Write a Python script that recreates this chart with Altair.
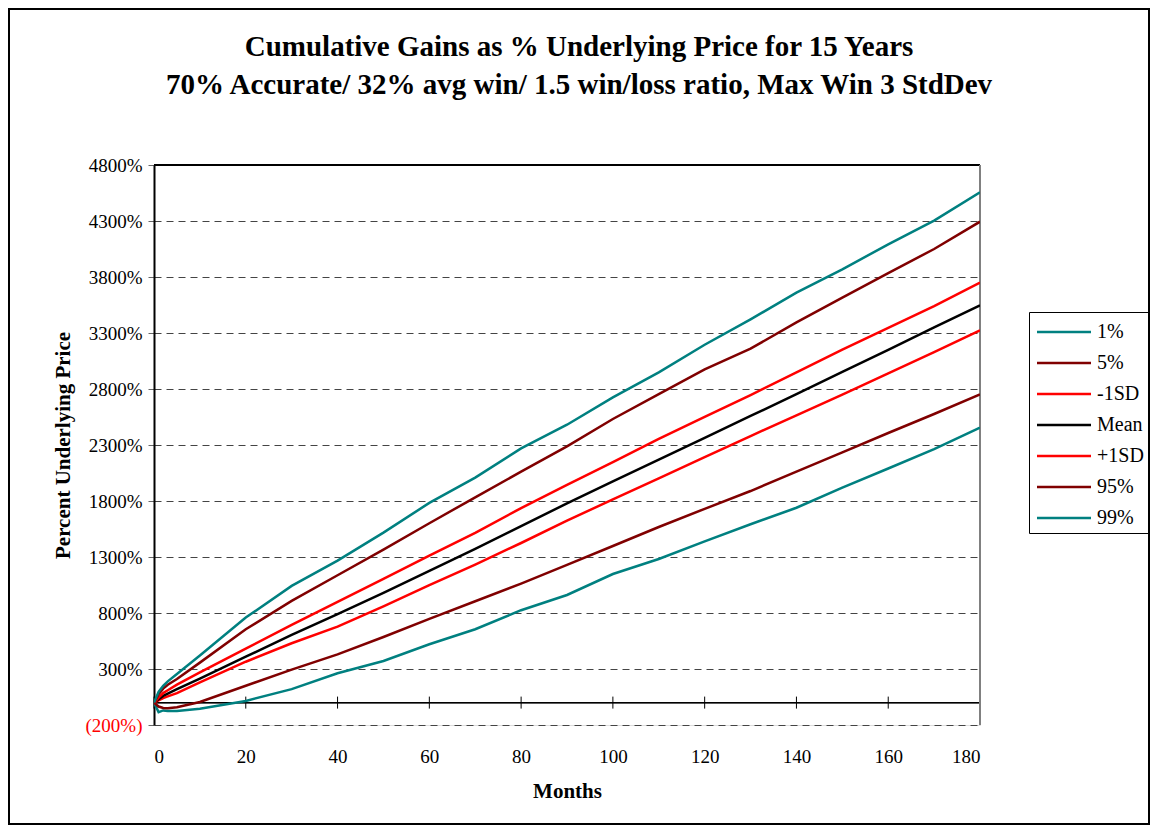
import altair as alt
import pandas as pd

# ---- data ----
months = [0, 1, 2, 3, 5, 10, 20, 30, 40, 50, 60, 70, 80, 90, 100, 110, 120, 130, 140, 150, 160, 170, 180]
p1 = [0, -85, -70, -75, -75, -55, 15, 120, 262, 372, 521, 655, 825, 961, 1148, 1282, 1440, 1592, 1740, 1919, 2090, 2264, 2455]
p5 = [0, -35, -48, -50, -42, 5, 150, 295, 430, 586, 747, 905, 1062, 1229, 1398, 1568, 1730, 1889, 2062, 2234, 2407, 2577, 2752]
sd_minus = [0, 20, 40, 55, 85, 180, 365, 530, 678, 860, 1048, 1232, 1425, 1624, 1815, 2003, 2192, 2380, 2565, 2749, 2940, 3130, 3324]
mean = [0, 30, 60, 80, 120, 215, 410, 605, 790, 979, 1176, 1372, 1575, 1779, 1975, 2169, 2364, 2559, 2755, 2952, 3150, 3350, 3547]
sd_plus = [0, 45, 85, 110, 160, 270, 482, 694, 900, 1104, 1312, 1515, 1737, 1943, 2148, 2354, 2552, 2746, 2949, 3151, 3345, 3541, 3750]
p95 = [0, 74, 125, 160, 210, 357, 655, 908, 1137, 1366, 1601, 1833, 2062, 2288, 2532, 2755, 2975, 3160, 3395, 3615, 3835, 4050, 4294]
p99 = [0, 95, 150, 190, 255, 420, 759, 1042, 1268, 1518, 1783, 2009, 2270, 2481, 2725, 2949, 3195, 3422, 3660, 3868, 4092, 4303, 4556]

series_names = ["1%", "5%", "-1SD", "Mean", "+1SD", "95%", "99%"]
series_values = [p1, p5, sd_minus, mean, sd_plus, p95, p99]
series_colors = ["#008080", "#800000", "#FF0000", "#000000", "#FF0000", "#800000", "#008080"]

x_ticks = [0, 20, 40, 60, 80, 100, 120, 140, 160, 180]
y_ticks = [-200, 300, 800, 1300, 1800, 2300, 2800, 3300, 3800, 4300, 4800]

title_lines = ["Cumulative Gains as % Underlying Price for 15 Years",
               "70% Accurate/ 32% avg win/ 1.5 win/loss ratio, Max Win 3 StdDev"]

rows = []
for name, vals in zip(series_names, series_values):
    for m, v in zip(months, vals):
        rows.append({"Months": m, "Value": v, "Series": name})
df = pd.DataFrame(rows)
ticks_df = pd.DataFrame({"Months": x_ticks})
title_df = pd.DataFrame({"line": title_lines, "order": [0, 1]})

FONT = "Liberation Serif"
W, H = 826, 560

xscale = alt.Scale(domain=[0, 180], nice=False, zero=False)
yscale = alt.Scale(domain=[-200, 4800], nice=False, zero=False)

lines = alt.Chart(df).mark_line(strokeWidth=2.5, clip=True).encode(
    x=alt.X("Months:Q", scale=xscale,
            axis=alt.Axis(values=x_ticks, title="Months", domain=False, ticks=False, grid=False,
                          labelFont=FONT, labelFontSize=19, labelColor="black", labelPadding=22,
                          titleFont=FONT, titleFontSize=21, titleFontWeight="bold", titleColor="black",
                          titlePadding=14)),
    y=alt.Y("Value:Q", scale=yscale,
            axis=alt.Axis(values=y_ticks, title="Percent Underlying Price",
                          labelExpr="datum.value < 0 ? '(' + format(-datum.value, 'd') + '%)' : format(datum.value, 'd') + '%'",
                          labelColor={"condition": {"test": "datum.value < 0", "value": "#FF0000"}, "value": "black"},
                          labelFont=FONT, labelFontSize=19, labelPadding=6,
                          domainColor="black", domainWidth=2,
                          tickColor="#666666", tickSize=6,
                          grid=True, gridColor="#444444", gridDash=[7, 5], gridWidth=1,
                          titleFont=FONT, titleFontSize=21, titleFontWeight="bold", titleColor="black",
                          titlePadding=12)),
    color=alt.Color("Series:N",
                    scale=alt.Scale(domain=series_names, range=series_colors),
                    legend=alt.Legend(orient="none", legendX=875, legendY=147, title=None,
                                      symbolType="M-2,0H2", symbolSize=729, symbolStrokeWidth=2.5,
                                      symbolOffset=15, labelOffset=18, padding=5, rowPadding=6,
                                      strokeColor="black", labelFont=FONT, labelFontSize=20,
                                      labelColor="black")),
    detail="Series:N",
)

zero_line = alt.Chart(ticks_df).mark_rule(color="black", strokeWidth=1).encode(
    y=alt.datum(0, scale=yscale)
)
zero_ticks = alt.Chart(ticks_df).mark_rule(color="black", strokeWidth=1, yOffset=-6, y2Offset=6).encode(
    x=alt.X("Months:Q", scale=xscale), y=alt.datum(0), y2=alt.datum(0)
)
top_border = alt.Chart(ticks_df).mark_rule(color="black", strokeWidth=1).encode(
    y=alt.datum(4800)
)
right_border = alt.Chart(ticks_df).mark_rule(color="#808080", strokeWidth=1.5).encode(
    x=alt.datum(180)
)
frame = alt.Chart(ticks_df).mark_rect(fill=None, stroke="black", strokeWidth=1.5).encode(
    x=alt.value(-145), x2=alt.value(995), y=alt.value(-156), y2=alt.value(659)
)
title1 = alt.Chart(title_df).transform_filter("datum.order == 0").mark_text(
    font=FONT, fontSize=29, fontWeight="bold", color="black", align="center", baseline="alphabetic"
).encode(text="line:N", x=alt.value(425), y=alt.value(-109))
title2 = alt.Chart(title_df).transform_filter("datum.order == 1").mark_text(
    font=FONT, fontSize=29, fontWeight="bold", color="black", align="center", baseline="alphabetic"
).encode(text="line:N", x=alt.value(425), y=alt.value(-71))

chart = alt.layer(frame, title1, title2, zero_line, zero_ticks, top_border, right_border, lines).properties(
    width=W, height=H,
    padding={"left": 146, "top": 157, "right": 170, "bottom": 100},
    autosize=alt.AutoSizeParams(type="none"),
).configure_view(stroke=None).configure(background="white")

chart.save("out.html", embed_options={"renderer": "svg", "actions": False})
